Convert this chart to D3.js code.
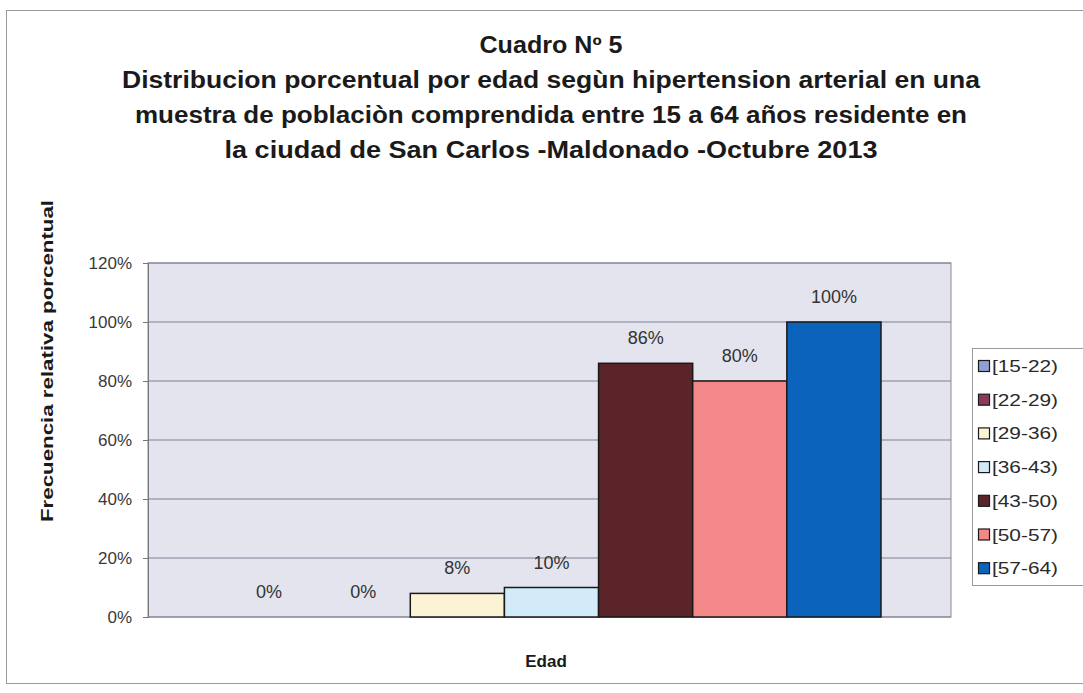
<!DOCTYPE html>
<html>
<head>
<meta charset="utf-8">
<script src="https://cdn.jsdelivr.net/npm/d3@7"></script>
<style>
  body { margin: 0; background: #fff; }
  text { font-family: "Liberation Sans", Arial, sans-serif; }
</style>
</head>
<body>
<div id="chart"></div>
<script>
// data
let ageGroups = ["[15-22)", "[22-29)", "[29-36)", "[36-43)", "[43-50)", "[50-57)", "[57-64)"];
let percents = [0, 0, 8, 10, 86, 80, 100];
let barColors = ["#8fa0d4", "#8c3a5c", "#fbf3d4", "#d3ebf8", "#5a2429", "#f48888", "#0b63bb"];
let yTicks = [0, 20, 40, 60, 80, 100, 120];
let titleLines = [
    "Cuadro Nº 5",
    "Distribucion porcentual por edad segùn hipertension arterial en una",
    "muestra de poblaciòn comprendida entre 15 a 64 años residente en",
    "la ciudad de San Carlos -Maldonado -Octubre 2013"
];

let svgWidth = 1083;
let svgHeight = 693;

let margin = { top: 263, right: 132, bottom: 76, left: 148 };
let width = svgWidth - margin.left - margin.right;
let height = svgHeight - margin.top - margin.bottom;

let svg = d3.select("#chart")
    .append("svg")
    .attr("width", svgWidth)
    .attr("height", svgHeight);

// outer frame of the chart
svg.append("rect")
    .attr("x", 6.5).attr("y", 10.5)
    .attr("width", 1100).attr("height", 673)
    .attr("fill", "#fff")
    .attr("stroke", "#9a9a9a")
    .attr("stroke-width", 1);

// title
let titleWidths = [143, 858, 832, 653];
svg.selectAll(".title")
    .data(titleLines)
    .enter()
    .append("text")
    .attr("x", 551)
    .attr("y", (d, i) => 53 + i * 35)
    .attr("text-anchor", "middle")
    .attr("font-size", 23)
    .attr("font-weight", "bold")
    .attr("fill", "#1a1a1a")
    .attr("textLength", (d, i) => titleWidths[i])
    .attr("lengthAdjust", "spacingAndGlyphs")
    .text(d => d);

let chartGroup = svg.append("g")
    .attr("transform", `translate(${margin.left}, ${margin.top})`);

// plot area
chartGroup.append("rect")
    .attr("width", width)
    .attr("height", height)
    .attr("fill", "#e3e4ee")
    .attr("stroke", "#8a8a96")
    .attr("stroke-width", 1);

let xBand = d3.scaleBand()
    .domain(ageGroups)
    .range([74, 733])
    .padding(0);

let yLinearScale = d3.scaleLinear()
    .domain([0, 120])
    .range([height, 0]);

// gridlines
chartGroup.selectAll(".grid")
    .data(yTicks)
    .enter()
    .append("line")
    .attr("x1", 0).attr("x2", width)
    .attr("y1", d => yLinearScale(d)).attr("y2", d => yLinearScale(d))
    .attr("stroke", "#7c8096")
    .attr("stroke-width", 1);

// y axis
let leftAxis = d3.axisLeft(yLinearScale)
    .tickValues(yTicks)
    .tickSize(5)
    .tickPadding(11)
    .tickFormat(d => d + "%");

let yAxisG = chartGroup.append("g").call(leftAxis);
yAxisG.select(".domain").attr("stroke", "#777");
yAxisG.selectAll(".tick line").attr("stroke", "#777");
yAxisG.selectAll(".tick text")
    .attr("font-size", 17)
    .attr("fill", "#3a3a3a")
    .attr("font-family", "Liberation Sans, Arial, sans-serif");

// bars
chartGroup.selectAll(".bar")
    .data(percents)
    .enter()
    .append("rect")
    .attr("x", (d, i) => xBand(ageGroups[i]))
    .attr("y", d => yLinearScale(d))
    .attr("width", xBand.bandwidth())
    .attr("height", d => height - yLinearScale(d))
    .attr("fill", (d, i) => barColors[i])
    .attr("stroke", d => d > 0 ? "#1a1a1a" : "none")
    .attr("stroke-width", 1.5);

// value labels
chartGroup.selectAll(".valueLabel")
    .data(percents)
    .enter()
    .append("text")
    .attr("x", (d, i) => xBand(ageGroups[i]) + xBand.bandwidth() / 2)
    .attr("y", d => yLinearScale(d) - 19)
    .attr("text-anchor", "middle")
    .attr("font-size", 18)
    .attr("fill", "#333")
    .text(d => d + "%");

// axis titles
svg.append("text")
    .attr("transform", "translate(53, 361) rotate(-90)")
    .attr("text-anchor", "middle")
    .attr("font-size", 17)
    .attr("font-weight", "bold")
    .attr("fill", "#1a1a1a")
    .attr("textLength", 322)
    .attr("lengthAdjust", "spacingAndGlyphs")
    .text("Frecuencia relativa porcentual");

svg.append("text")
    .attr("x", 546)
    .attr("y", 667)
    .attr("text-anchor", "middle")
    .attr("font-size", 17)
    .attr("font-weight", "bold")
    .attr("fill", "#1a1a1a")
    .text("Edad");

// legend
let legend = svg.append("g");
legend.append("rect")
    .attr("x", 972.5).attr("y", 348.5)
    .attr("width", 130).attr("height", 237)
    .attr("fill", "#fff")
    .attr("stroke", "#9a9a9a");

let legendItem = legend.selectAll(".legendItem")
    .data(ageGroups)
    .enter()
    .append("g")
    .attr("transform", (d, i) => `translate(978, ${366 + i * 33.7})`);

legendItem.append("rect")
    .attr("x", 0.5).attr("y", -5.5)
    .attr("width", 11).attr("height", 11)
    .attr("fill", (d, i) => barColors[i])
    .attr("stroke", "#1a1a1a")
    .attr("stroke-width", 1.2);

legendItem.append("text")
    .attr("x", 14)
    .attr("y", 6)
    .attr("font-size", 17)
    .attr("fill", "#2a2a2a")
    .attr("textLength", 66)
    .attr("lengthAdjust", "spacingAndGlyphs")
    .text(d => d);
</script>
</body>
</html>
